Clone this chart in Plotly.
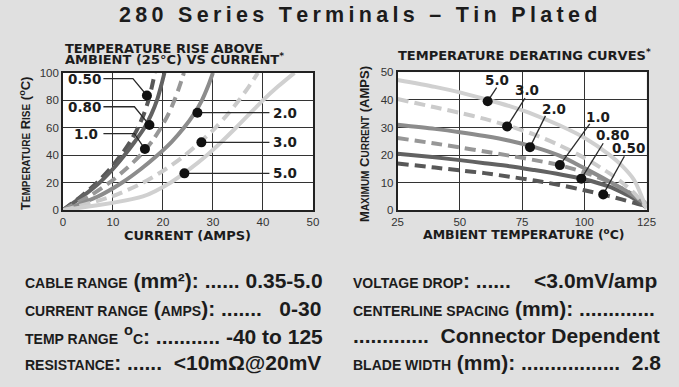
import plotly.graph_objects as go

W, H = 679, 387
BG = "#e0e0e0"
INK = "#1c1c1c"
GRID = "#333333"
BOLD_WIDE = "DejaVu Sans"
SANS = "Liberation Sans, Arial, sans-serif"

GAUGES = ["0.50", "0.80", "1.0", "2.0", "3.0", "5.0"]
COLORS = ["#585858", "#626262", "#979797", "#8c8c8c", "#cbcbcb", "#d0d0d0"]
DASHED = [True, False, True, False, True, False]

# left chart: current (amps) that gives each temperature rise
RISE = [0, 10, 20, 30, 40, 50, 60, 70, 80, 90, 100]
RISE_CURRENT = {
    "0.50": [0, 3.6, 6.8, 9.4, 11.6, 13.5, 15.0, 16.2, 17.1, 17.8, 18.4],
    "0.80": [0, 3.9, 7.3, 10.0, 12.3, 14.4, 16.3, 17.7, 18.8, 19.6, 20.3],
    "1.0": [0, 5.2, 9.3, 12.6, 15.5, 17.8, 19.6, 21.1, 22.3, 23.3, 24.2],
    "2.0": [0, 7.0, 11.8, 15.6, 18.9, 21.8, 24.2, 26.2, 27.8, 29.0, 30.0],
    "3.0": [0, 9.8, 16.0, 20.6, 24.4, 27.6, 30.5, 33.0, 35.2, 37.2, 39.0],
    "5.0": [0, 16.0, 21.5, 25.4, 28.8, 31.8, 34.6, 37.3, 40.0, 43.0, 46.3],
}

# right chart: max current vs ambient temperature
AMBIENT = [25, 40, 50, 60, 70, 80, 90, 100, 110, 115, 120, 125]
DERATE = {
    "0.50": [17.0, 15.5, 14.5, 13.5, 12.2, 10.8, 9.2, 7.3, 5.2, 4.0, 2.8, 1.5],
    "0.80": [20.5, 19.2, 18.2, 17.1, 16.0, 14.6, 13.1, 11.3, 8.6, 6.6, 4.3, 1.0],
    "1.0": [26.2, 24.2, 22.8, 21.3, 19.8, 18.2, 16.4, 13.8, 10.3, 8.0, 5.5, 2.5],
    "2.0": [31.0, 29.5, 28.3, 26.9, 25.2, 22.9, 19.8, 15.3, 10.5, 8.0, 5.2, 2.0],
    "3.0": [40.3, 37.3, 35.3, 33.1, 30.5, 27.4, 23.6, 19.0, 13.5, 10.2, 6.3, 1.0],
    "5.0": [47.2, 44.7, 42.7, 40.3, 37.7, 34.6, 30.8, 26.3, 20.2, 16.3, 11.0, 0.5],
}

# callouts, left chart
L_DOT_X = [16.8, 17.3, 16.4, 26.9, 27.7, 24.3]
L_DOT_Y = [83.5, 62.0, 44.5, 71.0, 49.4, 26.8]
L_LABEL_X = [4.4, 4.4, 4.6, 41.6, 41.6, 41.6]
L_LABEL_Y = [95.8, 75.3, 55.8, 71.0, 49.4, 26.8]
L_BEND_X = [14.0, 14.3, 14.3, 41.3, 41.3, 41.3]
L_START_X = [8.1, 8.1, 8.1, 41.3, 41.3, 41.3]

# callouts, right chart
R_DOT_T = [107.6, 98.8, 90.2, 78.2, 69.0, 61.2]
R_DOT_I = [5.8, 11.5, 16.4, 22.9, 30.4, 39.5]
R_END_T = [116.1, 107.6, 102.2, 84.4, 76.2, 64.8]
R_END_I = [19.6, 24.3, 31.3, 34.2, 40.6, 44.4]
R_LABEL_T = [117.7, 111.5, 105.7, 87.9, 76.8, 65.1]
R_LABEL_I = [22.6, 27.3, 33.7, 36.6, 43.6, 47.0]


def px(x):
    return x / W


def py(y):
    return 1 - y / H


fig = go.Figure()

for g, c, d in zip(GAUGES, COLORS, DASHED):
    style = dict(color=c, width=4, dash="11px,6px" if d else "solid", shape="spline", smoothing=0.8)
    fig.add_trace(go.Scatter(x=RISE_CURRENT[g], y=RISE, mode="lines", xaxis="x", yaxis="y",
                             line=style, hoverinfo="skip"))
    fig.add_trace(go.Scatter(x=AMBIENT, y=DERATE[g], mode="lines", xaxis="x2", yaxis="y2",
                             line=style, hoverinfo="skip"))

label_font = dict(family=BOLD_WIDE, size=13.5, color=INK, weight="bold")

# leader lines + dots, left
for i, g in enumerate(GAUGES):
    if i < 3:
        xs = [L_START_X[i], L_BEND_X[i], L_DOT_X[i]]
        ys = [L_LABEL_Y[i], L_LABEL_Y[i], L_DOT_Y[i]]
    else:
        xs = [L_DOT_X[i], L_BEND_X[i]]
        ys = [L_DOT_Y[i], L_LABEL_Y[i]]
    fig.add_trace(go.Scatter(x=xs, y=ys, mode="lines", xaxis="x", yaxis="y",
                             line=dict(color="#2a2a2a", width=1.3), hoverinfo="skip"))
    fig.add_annotation(text=g, x=L_LABEL_X[i], y=L_LABEL_Y[i], xref="x", yref="y",
                       xanchor="center" if i < 3 else "left", yanchor="middle",
                       showarrow=False, font=label_font)
fig.add_trace(go.Scatter(x=L_DOT_X, y=L_DOT_Y, mode="markers", xaxis="x", yaxis="y",
                         marker=dict(color="#111", size=10), hoverinfo="skip"))

# leader lines + dots, right
for i, g in enumerate(GAUGES):
    fig.add_trace(go.Scatter(x=[R_DOT_T[i], R_END_T[i]], y=[R_DOT_I[i], R_END_I[i]], mode="lines",
                             xaxis="x2", yaxis="y2", line=dict(color="#2a2a2a", width=1.3),
                             hoverinfo="skip"))
    fig.add_annotation(text=g, x=R_LABEL_T[i], y=R_LABEL_I[i], xref="x2", yref="y2",
                       xanchor="center", yanchor="middle", showarrow=False, font=label_font)
fig.add_trace(go.Scatter(x=R_DOT_T, y=R_DOT_I, mode="markers", xaxis="x2", yaxis="y2",
                         marker=dict(color="#111", size=10), hoverinfo="skip"))

axis_common = dict(
    showgrid=True, gridcolor=GRID, gridwidth=1.2, zeroline=False,
    showline=True, mirror=True, linecolor="#222", linewidth=1.5, ticks="",
    tickfont=dict(family=SANS, size=11.5, color="#333"), fixedrange=True,
)

fig.update_layout(
    width=W, height=H,
    paper_bgcolor=BG, plot_bgcolor="white",
    margin=dict(l=0, r=0, t=0, b=0),
    showlegend=False,
    xaxis=dict(domain=[px(58.3), px(314.3)], range=[0, 50], tickvals=[0, 10, 20, 30, 40, 50],
               anchor="y", **axis_common),
    yaxis=dict(domain=[py(210.7), py(69)], range=[0, 100], tickvals=[0, 20, 40, 60, 80, 100],
               anchor="x", **axis_common),
    xaxis2=dict(domain=[px(401), px(656)], range=[25, 125], tickvals=[25, 50, 75, 100, 125],
                anchor="y2", **axis_common),
    yaxis2=dict(domain=[py(211), py(68.3)], range=[0, 50], tickvals=[0, 10, 20, 30, 40, 50],
                anchor="x2", **axis_common),
)


def note(text, x, y, size, family=BOLD_WIDE, xanchor="center", angle=0, weight="bold"):
    fig.add_annotation(text=text, x=px(x), y=py(y), xref="paper", yref="paper",
                       xanchor=xanchor, yanchor="middle", showarrow=False, textangle=angle,
                       font=dict(family=family, size=size, color=INK, weight=weight))


title = "280 Series Terminals \u2013 Tin Plated"
note("\u2009".join(title), 360, 9, 21.5, family=SANS)

note("TEMPERATURE RISE ABOVE", 58, 44, 13, xanchor="left")
note("AMBIENT (25\u00b0C) VS CURRENT<sup>*</sup>", 58, 55, 13, xanchor="left")
note("TEMPERATURE DERATING CURVES<sup>*</sup>", 531, 51, 13)

note("CURRENT (AMPS)", 186, 237, 13)
note("AMBIENT TEMPERATURE (<sup>o</sup>C)", 530, 235, 12.5)


def sm(t, s=10):
    return f"<span style='font-size:{s}px'>{t}</span>"


note("T" + sm("EMPERATURE") + " R" + sm("ISE") + " (<sup>o</sup>C)", 19, 142, 13,
     family=SANS, angle=-90)
note("M" + sm("AXIMUM") + " C" + sm("URRENT") + " (AMPS)", 367, 142, 13,
     family=SANS, angle=-90)


def sc(t):
    return f"<span style='font-size:14px'>{t}</span>"


NB = "&#160;"
LEFT_SPECS = [
    sc("CABLE RANGE") + " (mm\u00b2): ...... 0.35-5.0",
    sc("CURRENT RANGE") + " (" + sc("AMPS") + "): ......." + NB * 2 + " 0-30",
    sc("TEMP RANGE") + " <sup>o</sup>" + sc("C") + ": ........... -40 to 125",
    sc("RESISTANCE") + ": ......" + NB + " &lt;10m\u03a9@20mV",
]
RIGHT_SPECS = [
    sc("VOLTAGE DROP") + ": ......" + NB * 3 + " &lt;3.0mV/amp",
    sc("CENTERLINE SPACING") + " (mm): .............",
    "............." + NB + " Connector Dependent",
    sc("BLADE WIDTH") + " (mm): ................." + NB + " 2.8",
]
SPEC_Y = [283, 312, 340, 368]

for t, y in zip(LEFT_SPECS, SPEC_Y):
    note(t, 17, y, 21, family=SANS, xanchor="left")
for t, y in zip(RIGHT_SPECS, SPEC_Y):
    note(t, 353, y, 21, family=SANS, xanchor="left")

fig.write_html("out.html", config={"displayModeBar": False},
               post_script="document.body.style.margin='0';")
